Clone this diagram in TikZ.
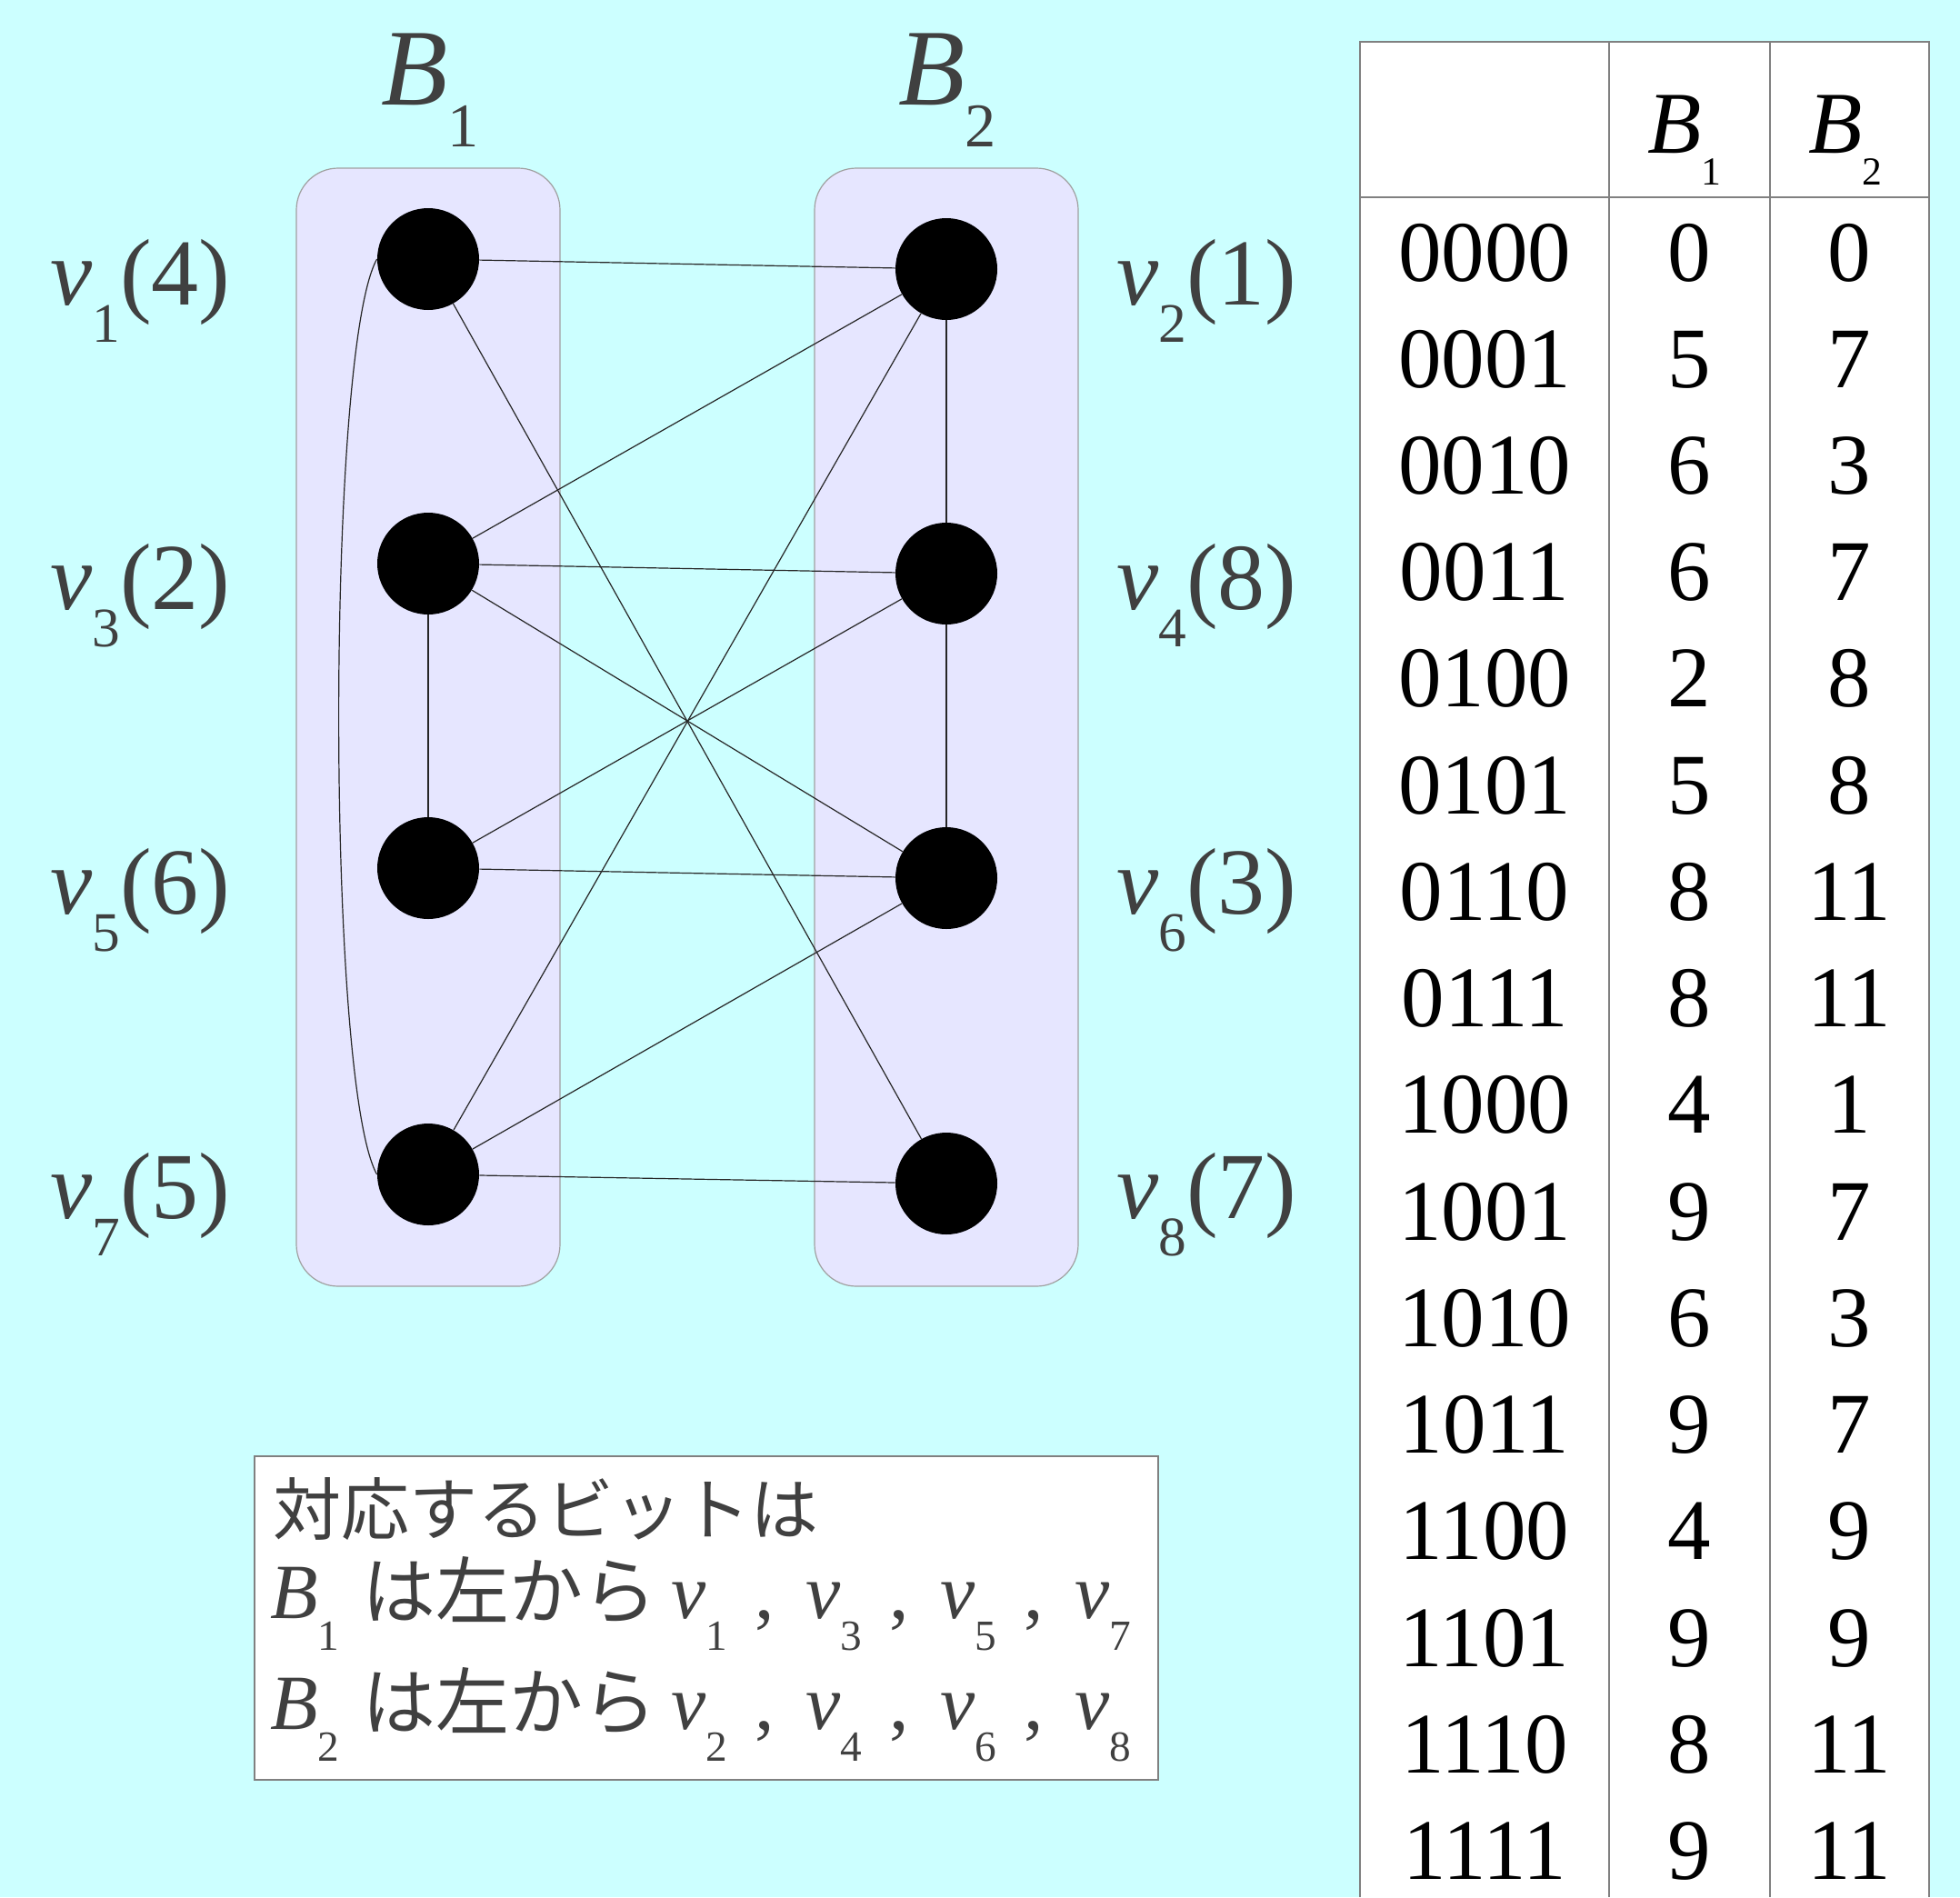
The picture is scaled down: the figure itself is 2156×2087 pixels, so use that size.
\documentclass[tikz,border=0pt]{standalone}
\usepackage{fontspec}
\setmainfont{Liberation Serif}
\newfontfamily\jpfont{Noto Sans CJK JP}
\definecolor{bgc}{HTML}{CCFFFF}
\definecolor{grp}{HTML}{E6E6FF}
\definecolor{grpline}{HTML}{A0A0A0}
\definecolor{txt}{HTML}{404040}
\definecolor{tline}{HTML}{808080}
\newcommand\lsub[3]{\raisebox{-#2em}{\scalebox{#3}{#1}}}
\newcommand\fs[1]{\fontsize{#1}{#1}\selectfont}
\begin{document}
\begin{tikzpicture}[x=0.5pt,y=-0.5pt,
  vert/.style={circle,fill=black,minimum size=56pt,inner sep=0pt},
  grpbox/.style={draw=grpline,fill=grp,rounded corners=23pt,minimum width=145pt,minimum height=615pt,line width=0.6pt},
  edge/.style={draw=black!85,line width=0.6pt},
  vlab/.style={anchor=base west,inner sep=0pt,text=txt,font=\fs{52pt}},
  blab/.style={anchor=base west,inner sep=0pt,text=txt,font=\fs{60pt}},
  cell/.style={anchor=base,inner sep=0pt,font=\fs{47.5pt}},
  tl/.style={draw=tline,line width=1pt},
  boxline/.style={anchor=base west,inner sep=0pt,text=txt,font=\fs{43pt}}]
\fill[bgc] (0,0) rectangle (2156,2087);
\useasboundingbox (0,0) rectangle (2156,2087);

% groups
\node[grpbox] (g1) at (471,800) {};
\node[grpbox] (g2) at (1041,800) {};
\node[blab] (gl1) at (419,116) {\textit{B}\lsub{1}{0.38}{0.57}};
\node[blab] (gl2) at (988,116) {\textit{B}\lsub{2}{0.38}{0.57}};

% vertices
\node[vert] (v1) at (471,285) {};
\node[vert] (v3) at (471,620) {};
\node[vert] (v5) at (471,955) {};
\node[vert] (v7) at (471,1292) {};
\node[vert] (v2) at (1041,296) {};
\node[vert] (v4) at (1041,631) {};
\node[vert] (v6) at (1041,966) {};
\node[vert] (v8) at (1041,1302) {};

% vertex labels
\node[vlab] (l1) at (55,335) {\textit{v}\lsub{1}{0.40}{0.59}(4)};
\node[vlab] (l3) at (55,670) {\textit{v}\lsub{3}{0.40}{0.59}(2)};
\node[vlab] (l5) at (55,1005) {\textit{v}\lsub{5}{0.40}{0.59}(6)};
\node[vlab] (l7) at (55,1340) {\textit{v}\lsub{7}{0.40}{0.59}(5)};
\node[vlab] (l2) at (1228,335) {\textit{v}\lsub{2}{0.40}{0.59}(1)};
\node[vlab] (l4) at (1228,670) {\textit{v}\lsub{4}{0.40}{0.59}(8)};
\node[vlab] (l6) at (1228,1005) {\textit{v}\lsub{6}{0.40}{0.59}(3)};
\node[vlab] (l8) at (1228,1340) {\textit{v}\lsub{8}{0.40}{0.59}(7)};

% edges
\draw[edge] (v1) -- (v2);
\draw[edge] (v1) -- (v8);
\draw[edge] (v1.west) .. controls +(-56,100) and +(-56,-100) .. (v7.west);
\draw[edge] (v3) -- (v2);
\draw[edge] (v3) -- (v4);
\draw[edge] (v3) -- (v6);
\draw[edge] (v3) -- (v5);
\draw[edge] (v5) -- (v4);
\draw[edge] (v5) -- (v6);
\draw[edge] (v7) -- (v2);
\draw[edge] (v7) -- (v6);
\draw[edge] (v7) -- (v8);
\draw[edge] (v2) -- (v4);
\draw[edge] (v4) -- (v6);

% table
\fill[white] (1496,46) rectangle (2122,2087);
\draw[tl] (1496,2087) -- (1496,46) -- (2122,46) -- (2122,2087);
\draw[tl] (1496,217) -- (2122,217);
\draw[tl] (1770,46) -- (1770,2087);
\draw[tl] (1947,46) -- (1947,2087);
\node[anchor=base west,inner sep=0pt,font=\fs{48.5pt}] (h1) at (1812,169) {\textit{B}\lsub{1}{0.36}{0.45}};
\node[anchor=base west,inner sep=0pt,font=\fs{48.5pt}] (h2) at (1989,169) {\textit{B}\lsub{2}{0.36}{0.45}};
\foreach \b/\p/\q [count=\i from 0] in {0000/0/0,0001/5/7,0010/6/3,0011/6/7,0100/2/8,0101/5/8,0110/8/11,0111/8/11,1000/4/1,1001/9/7,1010/6/3,1011/9/7,1100/4/9,1101/9/9,1110/8/11,1111/9/11}{
  \node[cell] (r\i) at (1633,309+117.24*\i) {\b};
  \node[cell] (a\i) at (1858,309+117.24*\i) {\p};
  \node[cell] (b\i) at (2034,309+117.24*\i) {\q};
}

% note box
\node[draw=tline,fill=white,line width=1pt,minimum width=497pt,minimum height=178pt,inner sep=0pt] (note) at (777,1780) {};
\node[boxline] (n1) at (300,1688) {\jpfont\fs{37.5pt}対応するビットは};
\node[boxline] (n2) at (297,1780) {\makebox[50.5pt][l]{\textit{B}\lsub{1}{0.41}{0.55}}\makebox[170pt][l]{\jpfont\fs{40.5pt}は左から}\makebox[74pt][l]{\makebox[46pt][l]{\textit{v}\lsub{1}{0.41}{0.55}},}\makebox[74pt][l]{\makebox[46pt][l]{\textit{v}\lsub{3}{0.41}{0.55}},}\makebox[74pt][l]{\makebox[46pt][l]{\textit{v}\lsub{5}{0.41}{0.55}},}\textit{v}\lsub{7}{0.41}{0.55}};
\node[boxline] (n3) at (297,1902) {\makebox[50.5pt][l]{\textit{B}\lsub{2}{0.41}{0.55}}\makebox[170pt][l]{\jpfont\fs{40.5pt}は左から}\makebox[74pt][l]{\makebox[46pt][l]{\textit{v}\lsub{2}{0.41}{0.55}},}\makebox[74pt][l]{\makebox[46pt][l]{\textit{v}\lsub{4}{0.41}{0.55}},}\makebox[74pt][l]{\makebox[46pt][l]{\textit{v}\lsub{6}{0.41}{0.55}},}\textit{v}\lsub{8}{0.41}{0.55}};
\end{tikzpicture}
\end{document}
